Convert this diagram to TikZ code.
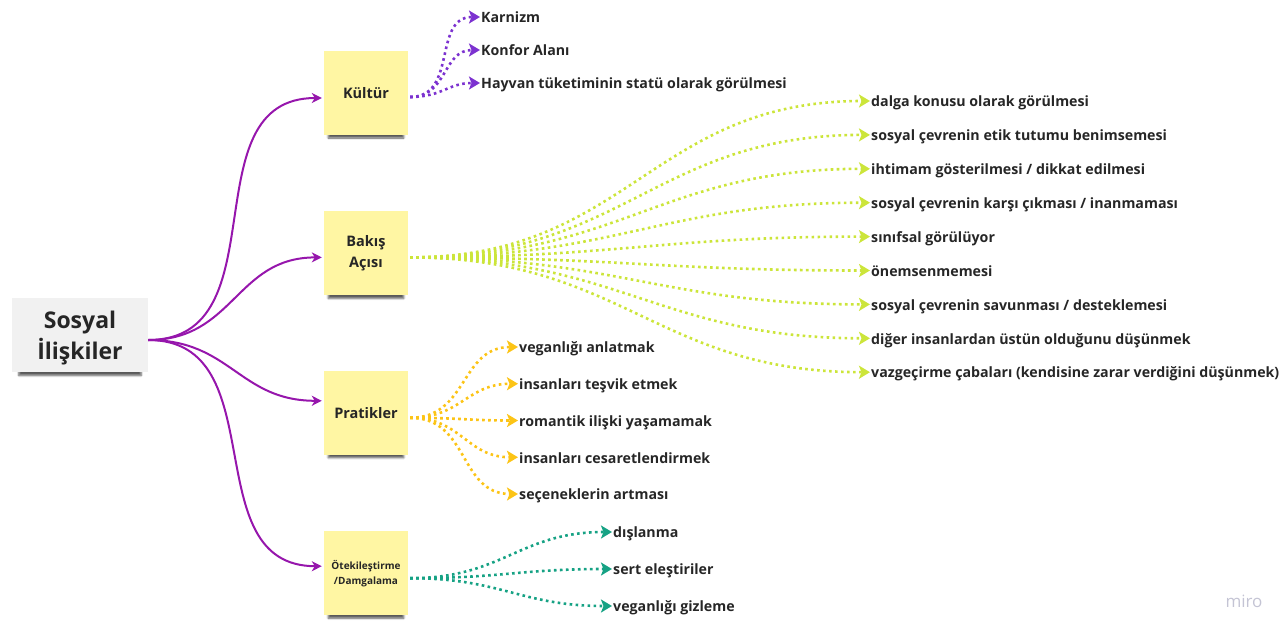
\documentclass[tikz,border=0pt]{standalone}
\usepackage{fontspec}
\setmainfont{Open Sans}
\usetikzlibrary{positioning,shapes,shadows,shadows.blur,arrows.meta}
\definecolor{ink}{RGB}{38,38,38}
\definecolor{rootfill}{RGB}{241,241,241}
\definecolor{stickyfill}{RGB}{255,246,163}
\definecolor{mainpurple}{RGB}{150,22,172}
\definecolor{violet}{RGB}{124,50,208}
\definecolor{lime}{RGB}{204,229,58}
\definecolor{gold}{RGB}{252,196,22}
\definecolor{teal}{RGB}{22,162,132}
\definecolor{mark}{RGB}{196,196,212}
\tikzset{
  leaf/.style={anchor=west, inner sep=1pt, text=ink,
    font=\bfseries\fontsize{14.2}{16}\selectfont,
    text height=16pt, text depth=4.5pt},
  papershadow/.style={blur shadow={shadow xshift=0pt, shadow yshift=-8pt,
    shadow scale=0.9, shadow opacity=65, shadow blur steps=6}},
  branch/.style={draw=mainpurple, line width=2pt,
    -{Stealth[length=10pt,width=10pt,inset=3pt]}},
  twig/.style={draw=#1, line width=2.6pt, line cap=butt,
    dash pattern=on 2.6pt off 3.4pt,
    -{Stealth[length=11pt,width=13pt,inset=2.5pt]}},
}

\begin{document}
\begin{tikzpicture}[x=1pt, y=-1pt]
                    \tikzstyle{sticky}=[rectangle, fill=stickyfill, papershadow,
                        minimum width=84pt, minimum height=84pt, text width=80pt,
                        inner sep=2pt, align=center, text=ink,
                        font=\bfseries\fontsize{14.5}{21}\selectfont]
                    \tikzstyle{curvy}=[out=0, in=180, looseness=1.15]
                    \useasboundingbox (0,0) rectangle (1286,621);

                    \node (root) [rectangle, fill=rootfill, papershadow,
                        minimum width=136pt, minimum height=74pt, align=center,
                        text=ink, font=\bfseries\fontsize{23}{31}\selectfont]
                        at (80,335)
                        {
                            \rule{0pt}{23pt}Sosyal\\İlişkiler
                        };

                        \node (kultur) [sticky] at (366,93)
                        {
                            Kültür
                        };
                        \node (bakis) [sticky, below= 76pt of kultur]
                        {
                            Bakış\\Açısı
                        };
                        \node (pratik) [sticky, below= 75pt of bakis]
                        {
                            Pratikler
                        };
                        \node (oteki) [sticky, below= 76pt of pratik,
                        font=\bfseries\fontsize{10}{15}\selectfont]
                        {
                            Ötekileştirme\\/Damgalama
                        };

                        \coordinate (root-out) at ([yshift=-5pt]root.east);
                        \coordinate (kultur-in) at ([xshift=-2pt,yshift=-5pt]kultur.west);
                        \coordinate (bakis-in) at ([xshift=-2pt,yshift=-4pt]bakis.west);
                        \coordinate (pratik-in) at ([xshift=-2pt,yshift=12pt]pratik.west);
                        \coordinate (oteki-in) at ([xshift=-2pt,yshift=7pt]oteki.west);
                        \coordinate (kultur-out) at ([xshift=2pt,yshift=-4pt]kultur.east);
                        \coordinate (bakis-out) at ([xshift=2pt,yshift=-4pt]bakis.east);
                        \coordinate (pratik-out) at ([xshift=2pt,yshift=-5pt]pratik.east);
                        \coordinate (oteki-out) at ([xshift=2pt,yshift=-5pt]oteki.east);

                        % Kültür
                        \node (karnizm) [leaf] at (480,17) {Karnizm};
                        \node (konfor) [leaf, below= 33pt of karnizm.west, anchor=west] {Konfor Alanı};
                        \node (statu) [leaf, below= 33pt of konfor.west, anchor=west]
                        {Hayvan tüketiminin statü olarak görülmesi};

                        % Bakış Açısı
                        \node (dalga) [leaf] at (870,101) {dalga konusu olarak görülmesi};
                        \node (etik) [leaf, below= 33.9pt of dalga.west, anchor=west]
                        {sosyal çevrenin etik tutumu benimsemesi};
                        \node (ihtimam) [leaf, below= 33.9pt of etik.west, anchor=west]
                        {ihtimam gösterilmesi / dikkat edilmesi};
                        \node (karsi) [leaf, below= 33.9pt of ihtimam.west, anchor=west]
                        {sosyal çevrenin karşı çıkması / inanmaması};
                        \node (sinif) [leaf, below= 33.9pt of karsi.west, anchor=west]
                        {sınıfsal görülüyor};
                        \node (onem) [leaf, below= 33.9pt of sinif.west, anchor=west]
                        {önemsenmemesi};
                        \node (savun) [leaf, below= 33.9pt of onem.west, anchor=west]
                        {sosyal çevrenin savunması / desteklemesi};
                        \node (ustun) [leaf, below= 33.9pt of savun.west, anchor=west]
                        {diğer insanlardan üstün olduğunu düşünmek};
                        \node (vazgec) [leaf, below= 33.9pt of ustun.west, anchor=west]
                        {vazgeçirme çabaları (kendisine zarar verdiğini düşünmek)};

                        % Pratikler
                        \node (anlat) [leaf] at (518,347) {veganlığı anlatmak};
                        \node (tesvik) [leaf, below= 36.75pt of anlat.west, anchor=west]
                        {insanları teşvik etmek};
                        \node (romantik) [leaf, below= 36.75pt of tesvik.west, anchor=west]
                        {romantik ilişki yaşamamak};
                        \node (cesaret) [leaf, below= 36.75pt of romantik.west, anchor=west]
                        {insanları cesaretlendirmek};
                        \node (secenek) [leaf, below= 36.75pt of cesaret.west, anchor=west]
                        {seçeneklerin artması};

                        % Ötekileştirme
                        \node (dislan) [leaf] at (612,532) {dışlanma};
                        \node (sert) [leaf, below= 37pt of dislan.west, anchor=west]
                        {sert eleştiriler};
                        \node (gizle) [leaf, below= 37pt of sert.west, anchor=west]
                        {veganlığı gizleme};

                        \node (miro) [text=mark, font=\fontsize{17}{19}\selectfont]
                        at (1244,601) {miro};

                        \draw[branch] (root-out) to[curvy] (kultur-in);
                        \draw[branch] (root-out) to[curvy] (bakis-in);
                        \draw[branch] (root-out) to[curvy] (pratik-in);
                        \draw[branch] (root-out) to[curvy] (oteki-in);

                        \draw[twig=violet] (kultur-out) to[curvy] (karnizm.west);
                        \draw[twig=violet] (kultur-out) to[curvy] (konfor.west);
                        \draw[twig=violet] (kultur-out) to[curvy] (statu.west);

                        \draw[twig=lime] (bakis-out) to[curvy] (dalga.west);
                        \draw[twig=lime] (bakis-out) to[curvy] (etik.west);
                        \draw[twig=lime] (bakis-out) to[curvy] (ihtimam.west);
                        \draw[twig=lime] (bakis-out) to[curvy] (karsi.west);
                        \draw[twig=lime] (bakis-out) to[curvy] (sinif.west);
                        \draw[twig=lime] (bakis-out) to[curvy] (onem.west);
                        \draw[twig=lime] (bakis-out) to[curvy] (savun.west);
                        \draw[twig=lime] (bakis-out) to[curvy] (ustun.west);
                        \draw[twig=lime] (bakis-out) to[curvy] (vazgec.west);

                        \draw[twig=gold] (pratik-out) to[curvy] (anlat.west);
                        \draw[twig=gold] (pratik-out) to[curvy] (tesvik.west);
                        \draw[twig=gold] (pratik-out) to[curvy] (romantik.west);
                        \draw[twig=gold] (pratik-out) to[curvy] (cesaret.west);
                        \draw[twig=gold] (pratik-out) to[curvy] (secenek.west);

                        \draw[twig=teal] (oteki-out) to[curvy] (dislan.west);
                        \draw[twig=teal] (oteki-out) to[curvy] (sert.west);
                        \draw[twig=teal] (oteki-out) to[curvy] (gizle.west);
                \end{tikzpicture}
\end{document}
